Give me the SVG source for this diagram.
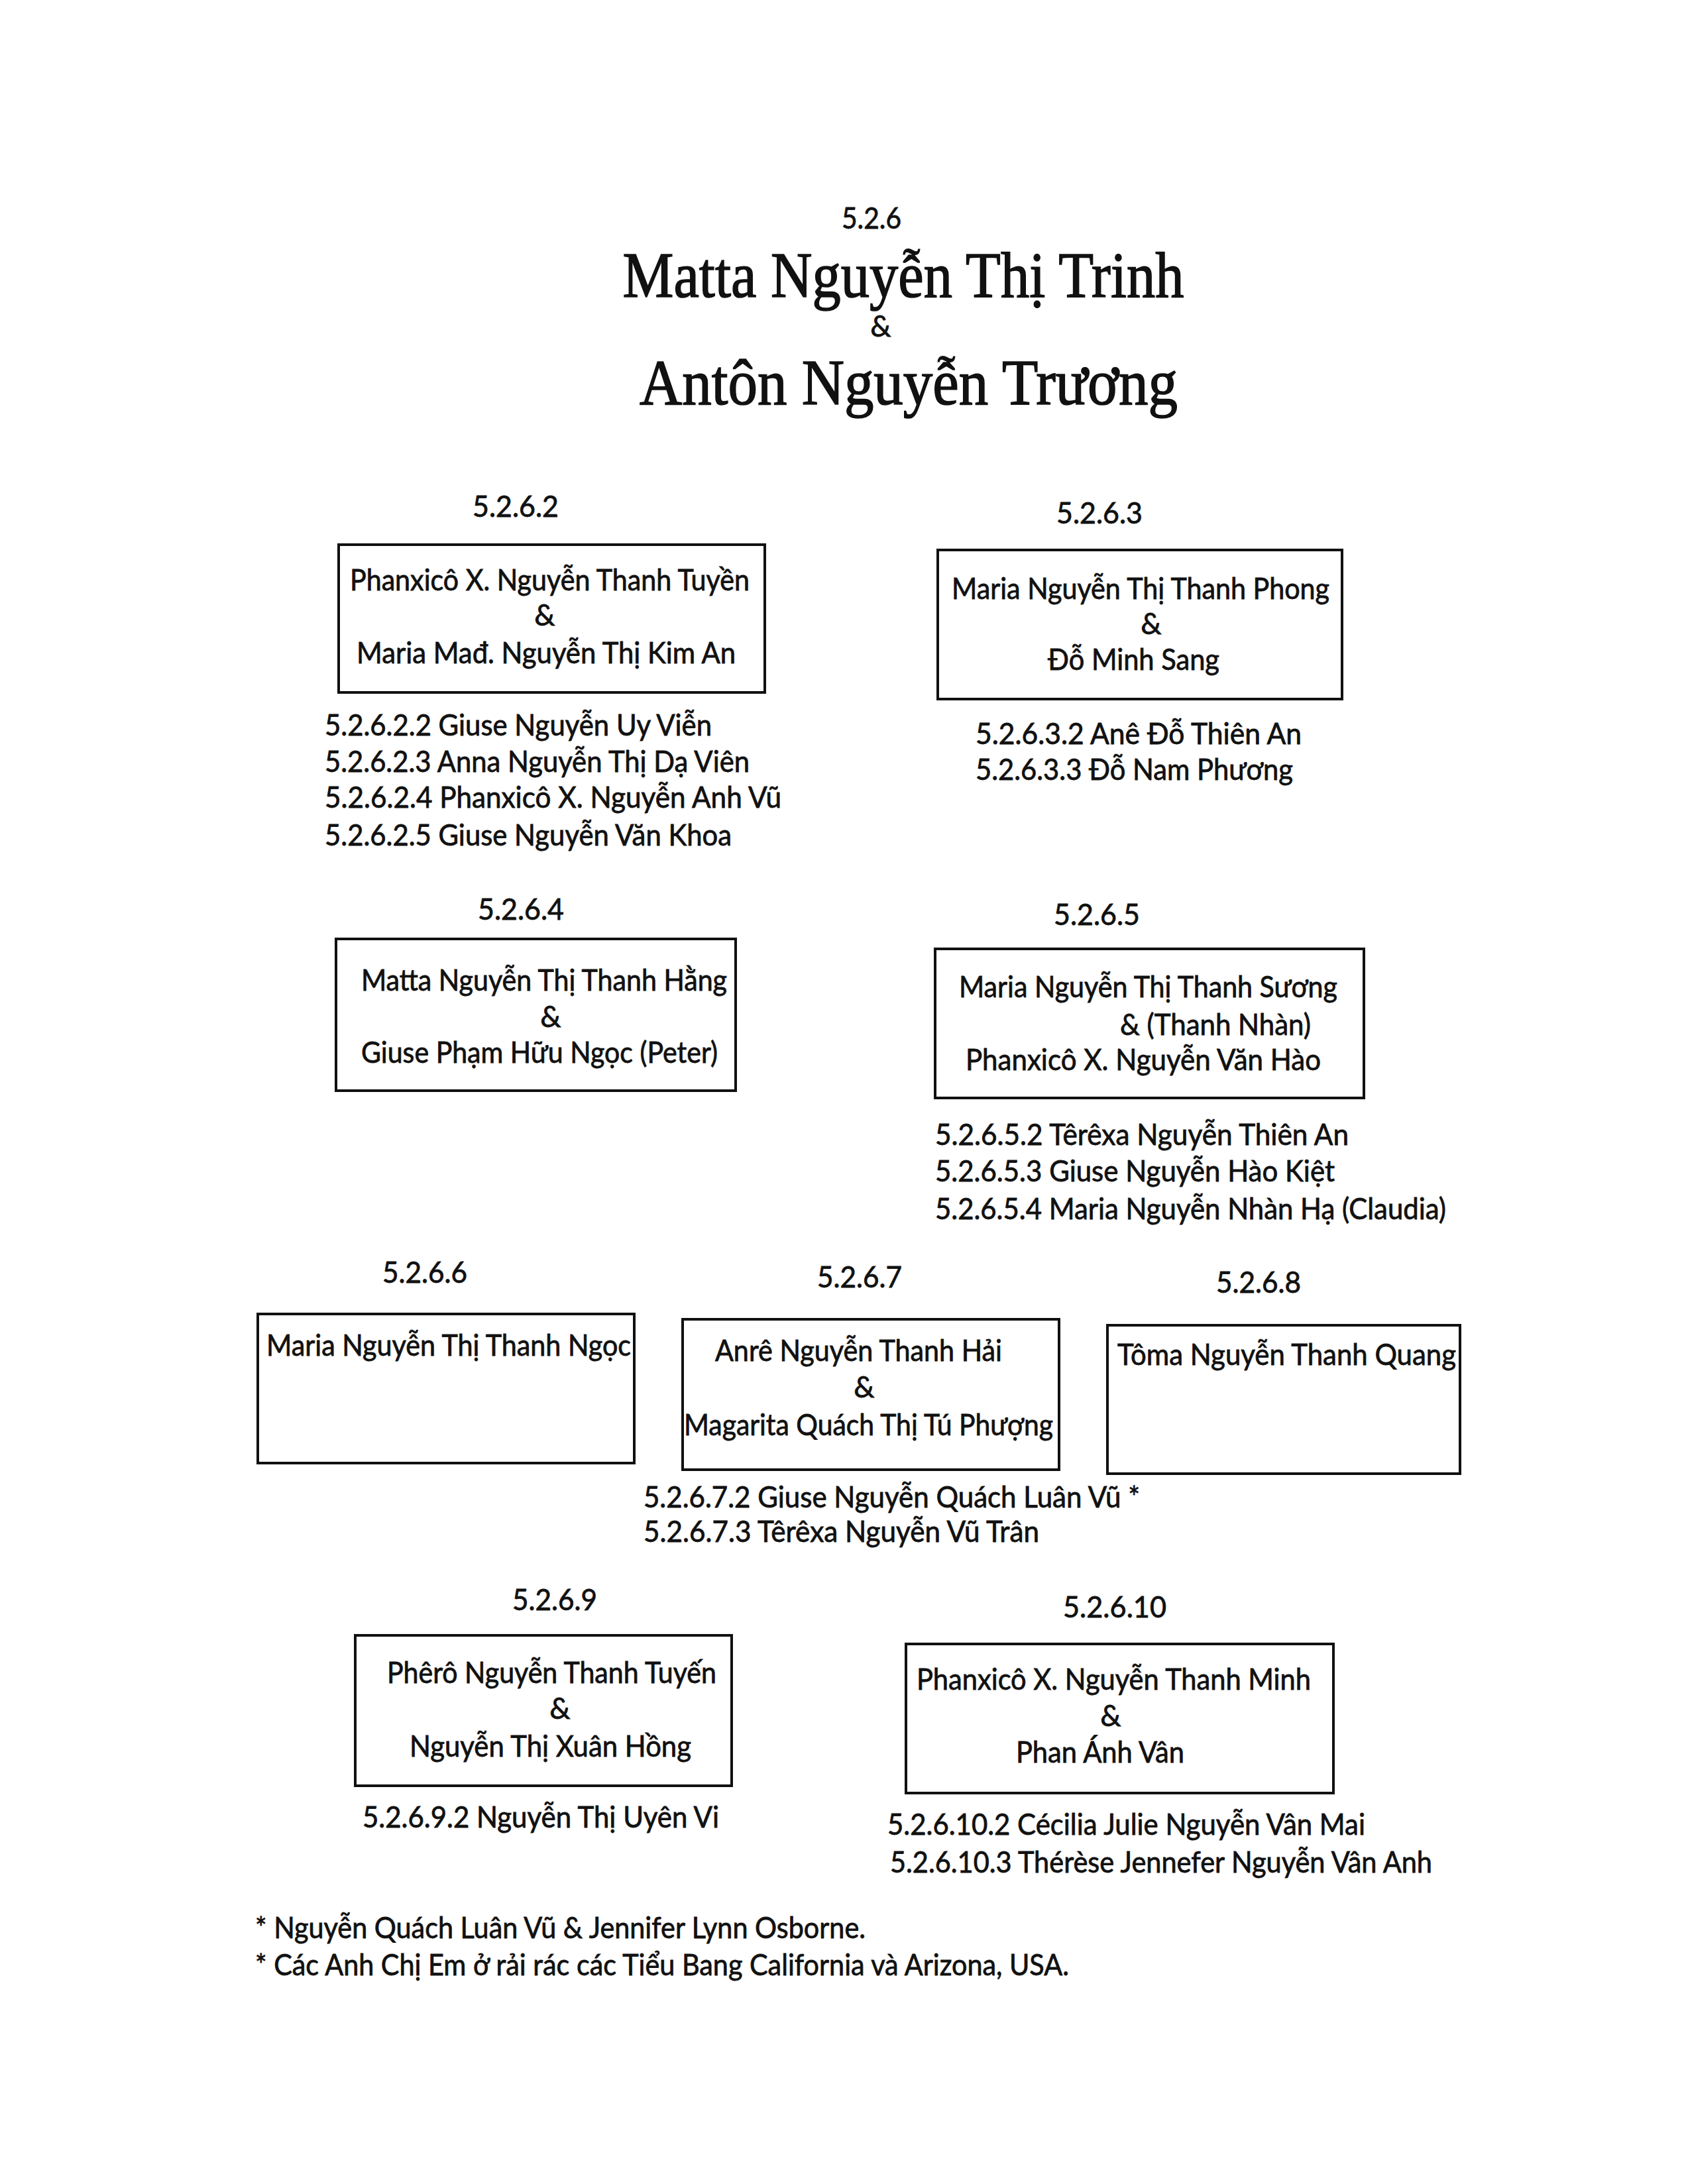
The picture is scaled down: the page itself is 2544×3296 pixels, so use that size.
<svg xmlns="http://www.w3.org/2000/svg" width="2544" height="3296" viewBox="0 0 2544 3296">
<style>
text{font-family:Lato,"Noto Sans","DejaVu Sans",sans-serif;fill:#111;stroke:#111;stroke-width:0.8;font-size:44px}
.t{font-family:"Liberation Serif","DejaVu Serif",serif;font-size:98px;stroke-width:1.6}
.c{text-anchor:middle}
.box{fill:none;stroke:#111;stroke-width:4}
</style>
<rect width="2544" height="3296" fill="#fff"/>
<g id="title">
<text class="c" x="1315" y="345" textLength="90" lengthAdjust="spacingAndGlyphs">5.2.6</text>
<text class="t c" x="1363" y="448" textLength="847" lengthAdjust="spacingAndGlyphs">Matta Nguyễn Thị Trinh</text>
<text class="c" x="1329" y="508" font-size="42">&amp;</text>
<text class="t c" x="1371" y="610" textLength="812" lengthAdjust="spacingAndGlyphs">Antôn Nguyễn Trương</text>
</g>
<g id="connectors"></g>
<g id="n5262">
<text class="c" x="778" y="780" textLength="130" lengthAdjust="spacingAndGlyphs">5.2.6.2</text>
<rect class="box" x="511" y="822" width="643" height="223"/>
<text x="528" y="891" textLength="603" lengthAdjust="spacingAndGlyphs">Phanxicô X. Nguyễn Thanh Tuyền</text>
<text class="c" x="822" y="944">&amp;</text>
<text x="538" y="1001" textLength="572" lengthAdjust="spacingAndGlyphs">Maria Mađ. Nguyễn Thị Kim An</text>
<text x="490" y="1110" textLength="584" lengthAdjust="spacingAndGlyphs">5.2.6.2.2 Giuse Nguyễn Uy Viễn</text>
<text x="490" y="1165" textLength="641" lengthAdjust="spacingAndGlyphs">5.2.6.2.3 Anna Nguyễn Thị Dạ Viên</text>
<text x="490" y="1219" textLength="689" lengthAdjust="spacingAndGlyphs">5.2.6.2.4 Phanxicô X. Nguyễn Anh Vũ</text>
<text x="490" y="1276" textLength="614" lengthAdjust="spacingAndGlyphs">5.2.6.2.5 Giuse Nguyễn Văn Khoa</text>
</g>
<g id="n5263">
<text class="c" x="1659" y="790" textLength="130" lengthAdjust="spacingAndGlyphs">5.2.6.3</text>
<rect class="box" x="1415" y="830" width="610" height="225"/>
<text x="1436" y="904" textLength="570" lengthAdjust="spacingAndGlyphs">Maria Nguyễn Thị Thanh Phong</text>
<text class="c" x="1737" y="957">&amp;</text>
<text x="1581" y="1011" textLength="259" lengthAdjust="spacingAndGlyphs">Đỗ Minh Sang</text>
<text x="1472" y="1123" textLength="492" lengthAdjust="spacingAndGlyphs">5.2.6.3.2 Anê Đỗ Thiên An</text>
<text x="1472" y="1177" textLength="479" lengthAdjust="spacingAndGlyphs">5.2.6.3.3 Đỗ Nam Phương</text>
</g>
<g id="n5264">
<text class="c" x="786" y="1388" textLength="130" lengthAdjust="spacingAndGlyphs">5.2.6.4</text>
<rect class="box" x="507" y="1417" width="603" height="229"/>
<text x="545" y="1495" textLength="552" lengthAdjust="spacingAndGlyphs">Matta Nguyễn Thị Thanh Hằng</text>
<text class="c" x="831" y="1550">&amp;</text>
<text x="545" y="1604" textLength="538" lengthAdjust="spacingAndGlyphs">Giuse Phạm Hữu Ngọc (Peter)</text>
</g>
<g id="n5265">
<text class="c" x="1655" y="1396" textLength="130" lengthAdjust="spacingAndGlyphs">5.2.6.5</text>
<rect class="box" x="1411" y="1432" width="647" height="225"/>
<text x="1447" y="1505" textLength="571" lengthAdjust="spacingAndGlyphs">Maria Nguyễn Thị Thanh Sương</text>
<text x="1690" y="1562" textLength="288" lengthAdjust="spacingAndGlyphs">&amp; (Thanh Nhàn)</text>
<text x="1457" y="1615" textLength="536" lengthAdjust="spacingAndGlyphs">Phanxicô X. Nguyễn Văn Hào</text>
<text x="1411" y="1728" textLength="624" lengthAdjust="spacingAndGlyphs">5.2.6.5.2 Têrêxa Nguyễn Thiên An</text>
<text x="1411" y="1783" textLength="603" lengthAdjust="spacingAndGlyphs">5.2.6.5.3 Giuse Nguyễn Hào Kiệt</text>
<text x="1411" y="1840" textLength="771" lengthAdjust="spacingAndGlyphs">5.2.6.5.4 Maria Nguyễn Nhàn Hạ (Claudia)</text>
</g>
<g id="n5266">
<text class="c" x="641" y="1936" textLength="128" lengthAdjust="spacingAndGlyphs">5.2.6.6</text>
<rect class="box" x="389" y="1983" width="568" height="225"/>
<text x="402" y="2046" textLength="550" lengthAdjust="spacingAndGlyphs">Maria Nguyễn Thị Thanh Ngọc</text>
</g>
<g id="n5267">
<text class="c" x="1297" y="1943" textLength="128" lengthAdjust="spacingAndGlyphs">5.2.6.7</text>
<rect class="box" x="1030" y="1991" width="568" height="227"/>
<text x="1079" y="2054" textLength="433" lengthAdjust="spacingAndGlyphs">Anrê Nguyễn Thanh Hải</text>
<text class="c" x="1304" y="2109">&amp;</text>
<text x="1032" y="2166" textLength="557" lengthAdjust="spacingAndGlyphs">Magarita Quách Thị Tú Phượng</text>
<text x="971" y="2275" textLength="749" lengthAdjust="spacingAndGlyphs">5.2.6.7.2 Giuse Nguyễn Quách Luân Vũ *</text>
<text x="971" y="2327" textLength="597" lengthAdjust="spacingAndGlyphs">5.2.6.7.3 Têrêxa Nguyễn Vũ Trân</text>
</g>
<g id="n5268">
<text class="c" x="1899" y="1951" textLength="128" lengthAdjust="spacingAndGlyphs">5.2.6.8</text>
<rect class="box" x="1671" y="2000" width="532" height="224"/>
<text x="1686" y="2060" textLength="511" lengthAdjust="spacingAndGlyphs">Tôma Nguyễn Thanh Quang</text>
</g>
<g id="n5269">
<text class="c" x="837" y="2430" textLength="128" lengthAdjust="spacingAndGlyphs">5.2.6.9</text>
<rect class="box" x="536" y="2468" width="568" height="227"/>
<text x="584" y="2540" textLength="497" lengthAdjust="spacingAndGlyphs">Phêrô Nguyễn Thanh Tuyến</text>
<text class="c" x="845" y="2594">&amp;</text>
<text x="618" y="2651" textLength="425" lengthAdjust="spacingAndGlyphs">Nguyễn Thị Xuân Hồng</text>
<text x="547" y="2758" textLength="538" lengthAdjust="spacingAndGlyphs">5.2.6.9.2 Nguyễn Thị Uyên Vi</text>
</g>
<g id="n52610">
<text class="c" x="1682" y="2441" textLength="156" lengthAdjust="spacingAndGlyphs">5.2.6.10</text>
<rect class="box" x="1367" y="2481" width="645" height="225"/>
<text x="1383" y="2550" textLength="595" lengthAdjust="spacingAndGlyphs">Phanxicô X. Nguyễn Thanh Minh</text>
<text class="c" x="1676" y="2605">&amp;</text>
<text x="1533" y="2660" textLength="254" lengthAdjust="spacingAndGlyphs">Phan Ánh Vân</text>
<text x="1339" y="2769" textLength="721" lengthAdjust="spacingAndGlyphs">5.2.6.10.2 Cécilia Julie Nguyễn Vân Mai</text>
<text x="1343" y="2826" textLength="818" lengthAdjust="spacingAndGlyphs">5.2.6.10.3 Thérèse Jennefer Nguyễn Vân Anh</text>
</g>
<g id="notes">
<text x="385" y="2925" textLength="921" lengthAdjust="spacingAndGlyphs">* Nguyễn Quách Luân Vũ &amp; Jennifer Lynn Osborne.</text>
<text x="385" y="2981" textLength="1228" lengthAdjust="spacingAndGlyphs">* Các Anh Chị Em ở rải rác các Tiểu Bang California và Arizona, USA.</text>
</g>
</svg>
